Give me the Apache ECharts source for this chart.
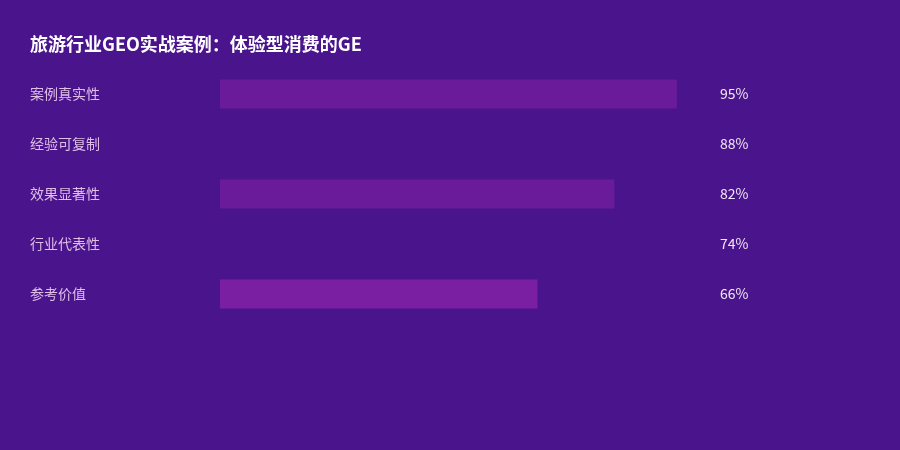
<!DOCTYPE html>
<html><head><meta charset="utf-8">
<script src="https://cdn.jsdelivr.net/npm/echarts@6/dist/echarts.min.js"></script>
<style>html,body{margin:0;padding:0;background:#4a148c}#c{width:900px;height:450px}</style>
</head><body><div id="c"></div>
<script>
const titleText = '旅游行业GEO实战案例：体验型消费的GE';
const categories = ['案例真实性', '经验可复制', '效果显著性', '行业代表性', '参考价值'];
const values = [95, 88, 82, 74, 66];
const barColors = ['#6a1b9a', '#4a148c', '#6a1b9a', '#4a148c', '#7b1fa2'];
const valueLabels = values.map(v => v + '%');

const chart = echarts.init(document.getElementById('c'));
chart.setOption({
  backgroundColor: '#4a148c',
  animation: false,
  title: {
    text: titleText, left: 25, top: 30,
    textStyle: { color: '#ffffff', fontSize: 18, fontWeight: 'bold', fontFamily: 'Noto Sans CJK SC' }
  },
  grid: { left: 220, width: 481, top: 69, height: 250 },
  xAxis: { type: 'value', min: 0, max: 100, show: false },
  yAxis: [
    { type: 'category', data: categories, inverse: true,
      axisLine: { show: false }, axisTick: { show: false },
      axisLabel: { align: 'left', margin: 190, color: '#e1bee7', fontSize: 14, fontFamily: 'Noto Sans CJK SC' } },
    { type: 'category', data: valueLabels, inverse: true, position: 'right',
      axisLine: { show: false }, axisTick: { show: false },
      axisLabel: { align: 'left', margin: 19, color: '#f3e5f5', fontSize: 14, fontFamily: 'Noto Sans CJK SC' } }
  ],
  series: [{
    type: 'bar', yAxisIndex: 0, barWidth: 29,
    data: values.map((v, i) => ({ value: v, itemStyle: { color: barColors[i] } }))
  }]
});
</script></body></html>
